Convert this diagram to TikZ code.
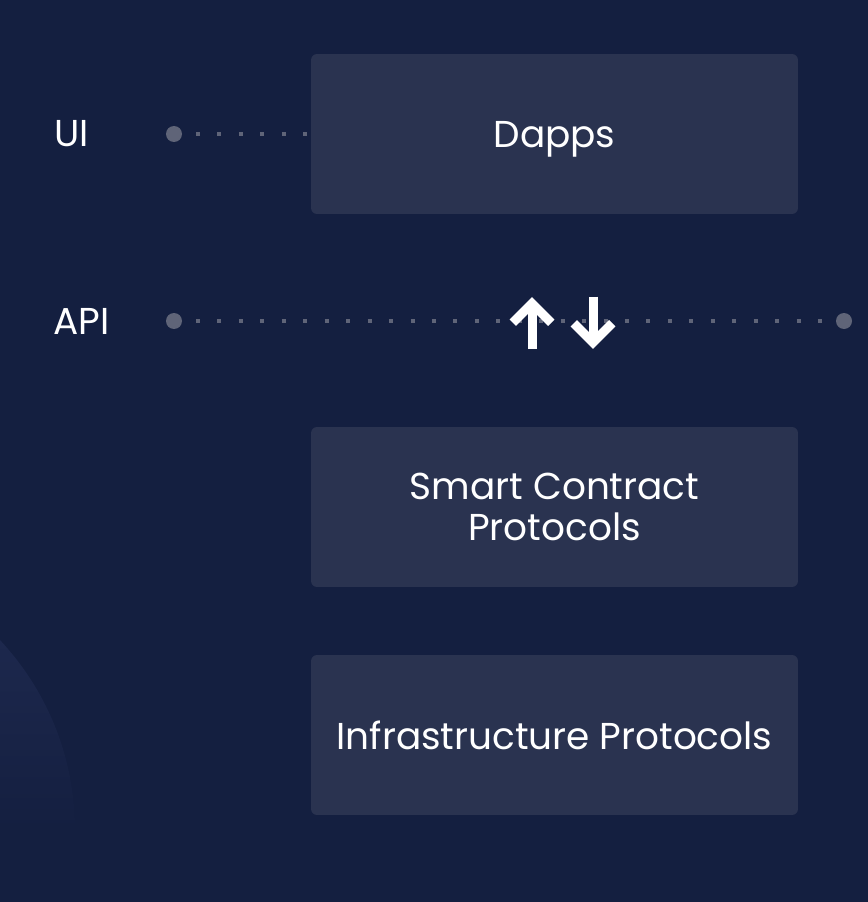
\documentclass[tikz,border=0pt]{standalone}
\usepackage{fontspec}
\setmainfont{Poppins}
\definecolor{bg}{HTML}{141F40}
\definecolor{boxfill}{HTML}{2A3350}
\definecolor{dotgray}{HTML}{5F6478}
\definecolor{arcblue}{HTML}{212C53}
\tikzset{
  box/.style={fill=boxfill, rounded corners=0.12cm, minimum width=9.74cm, minimum height=3.2cm, align=center, text=white, text depth=0pt, font=\fontsize{21.3}{23.2}\selectfont},
  lbl/.style={anchor=west, text=white, font=\fontsize{21.3}{23.2}\selectfont, inner sep=0},
  pt/.style={circle, fill=dotgray, minimum size=0.32cm, inner sep=0},
  dotline/.style={draw=dotgray, line width=0.08cm, dash pattern=on 0.08cm off 0.349cm, shorten <=0.274cm},
  updown/.style={draw=white, line width=0.18cm, miter limit=10}
}
\begin{document}
\begin{tikzpicture}[x=0.02cm, y=-0.02cm]
\useasboundingbox[fill=bg] (0,0) rectangle (868,902);
\begin{scope}
\clip (0,0) rectangle (868,902);
\shade[top color=arcblue, bottom color=bg, middle color=bg] (-203,830) circle (278);
\end{scope}
% layers
\node[box] (dapps) at (554.5,134) {Dapps};
\node[box] (smart) at (554.5,507) {Smart Contract\\Protocols};
\node[box] (infra) at (554.5,735) {Infrastructure Protocols};
% levels
\node[lbl] (ui) at (54,134) {UI};
\node[lbl] (api) at (53,321) {API};
\node[pt] (uidot) at (174,134) {};
\node[pt] (apil) at (174,321) {};
\node[pt] (apir) at (844,321) {};
\draw[dotline] (uidot) -- (dapps.west);
\draw[dotline] (apil) -- (apir);
% up and down
\draw[updown] (532,349) -- (532,303.4);
\draw[updown] (512.7,322.7) -- (532,303.4) -- (551.3,322.7);
\draw[updown] (593,296.7) -- (593,342.6);
\draw[updown] (573.7,323.3) -- (593,342.6) -- (612.3,323.3);
\end{tikzpicture}
\end{document}
